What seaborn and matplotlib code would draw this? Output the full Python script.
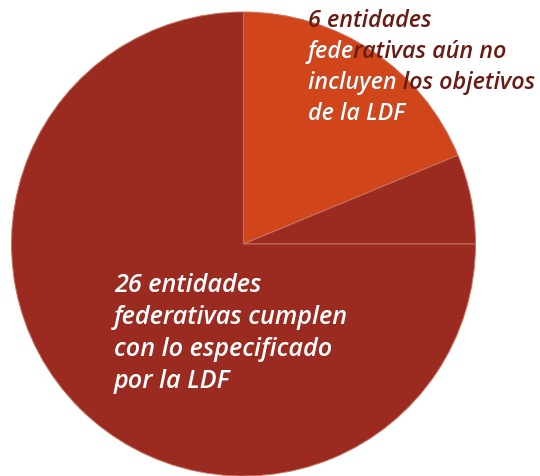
import matplotlib
matplotlib.use("Agg")
import matplotlib.pyplot as plt
import seaborn as sns

# datos
entidades = [6, 2, 24]
colores = ["#D0461A", "#9B2A21", "#9B2A21"]
etiqueta_faltan = ["6 entidades", "federativas aún no", "incluyen los objetivos", "de la LDF"]
# caracteres de cada renglón que caen sobre la rebanada naranja (en blanco)
sobre_pastel = [0, 4, 9, 9]
etiqueta_cumplen = ["26 entidades", "federativas cumplen", "con lo especificado", "por la LDF"]

sns.set_theme(style="white")
plt.rcParams["font.family"] = ["Open Sans", "DejaVu Sans"]

W, H = 540, 477
fig = plt.figure(figsize=(W / 100, H / 100), dpi=100)
cx, cy, r = 243.5, 245, 232
ax = fig.add_axes([(cx - r) / W, (H - cy - r) / H, 2 * r / W, 2 * r / H])

wedges, _ = ax.pie(entidades, colors=colores, startangle=90, counterclock=False,
                   radius=1, frame=False,
                   wedgeprops=dict(edgecolor="#C9735F", linewidth=0.7))
ax.set_xlim(-1, 1)
ax.set_ylim(-1, 1)
ax.axis("off")


def px(x, y):
    return (x - cx) / r, (cy - y) / r


estilo = dict(fontweight="semibold", fontstyle="italic", va="baseline", ha="left",
              clip_on=False)

# etiqueta superior: oscura fuera del pastel, blanca sobre la rebanada naranja
for i, (linea, n) in enumerate(zip(etiqueta_faltan, sobre_pastel)):
    x, y = px(308, 27 + 31 * i)
    ax.text(x, y, linea, color="#6A1C14", fontsize=16.8, zorder=5, **estilo)
    if n:
        ax.text(x, y, linea[:n], color="white", fontsize=16.8, zorder=6, **estilo)

for i, linea in enumerate(etiqueta_cumplen):
    x, y = px(114, 292 + 32 * i)
    ax.text(x, y, linea, color="white", fontsize=18.2, zorder=5, **estilo)

fig.savefig("out.png", dpi=100)
